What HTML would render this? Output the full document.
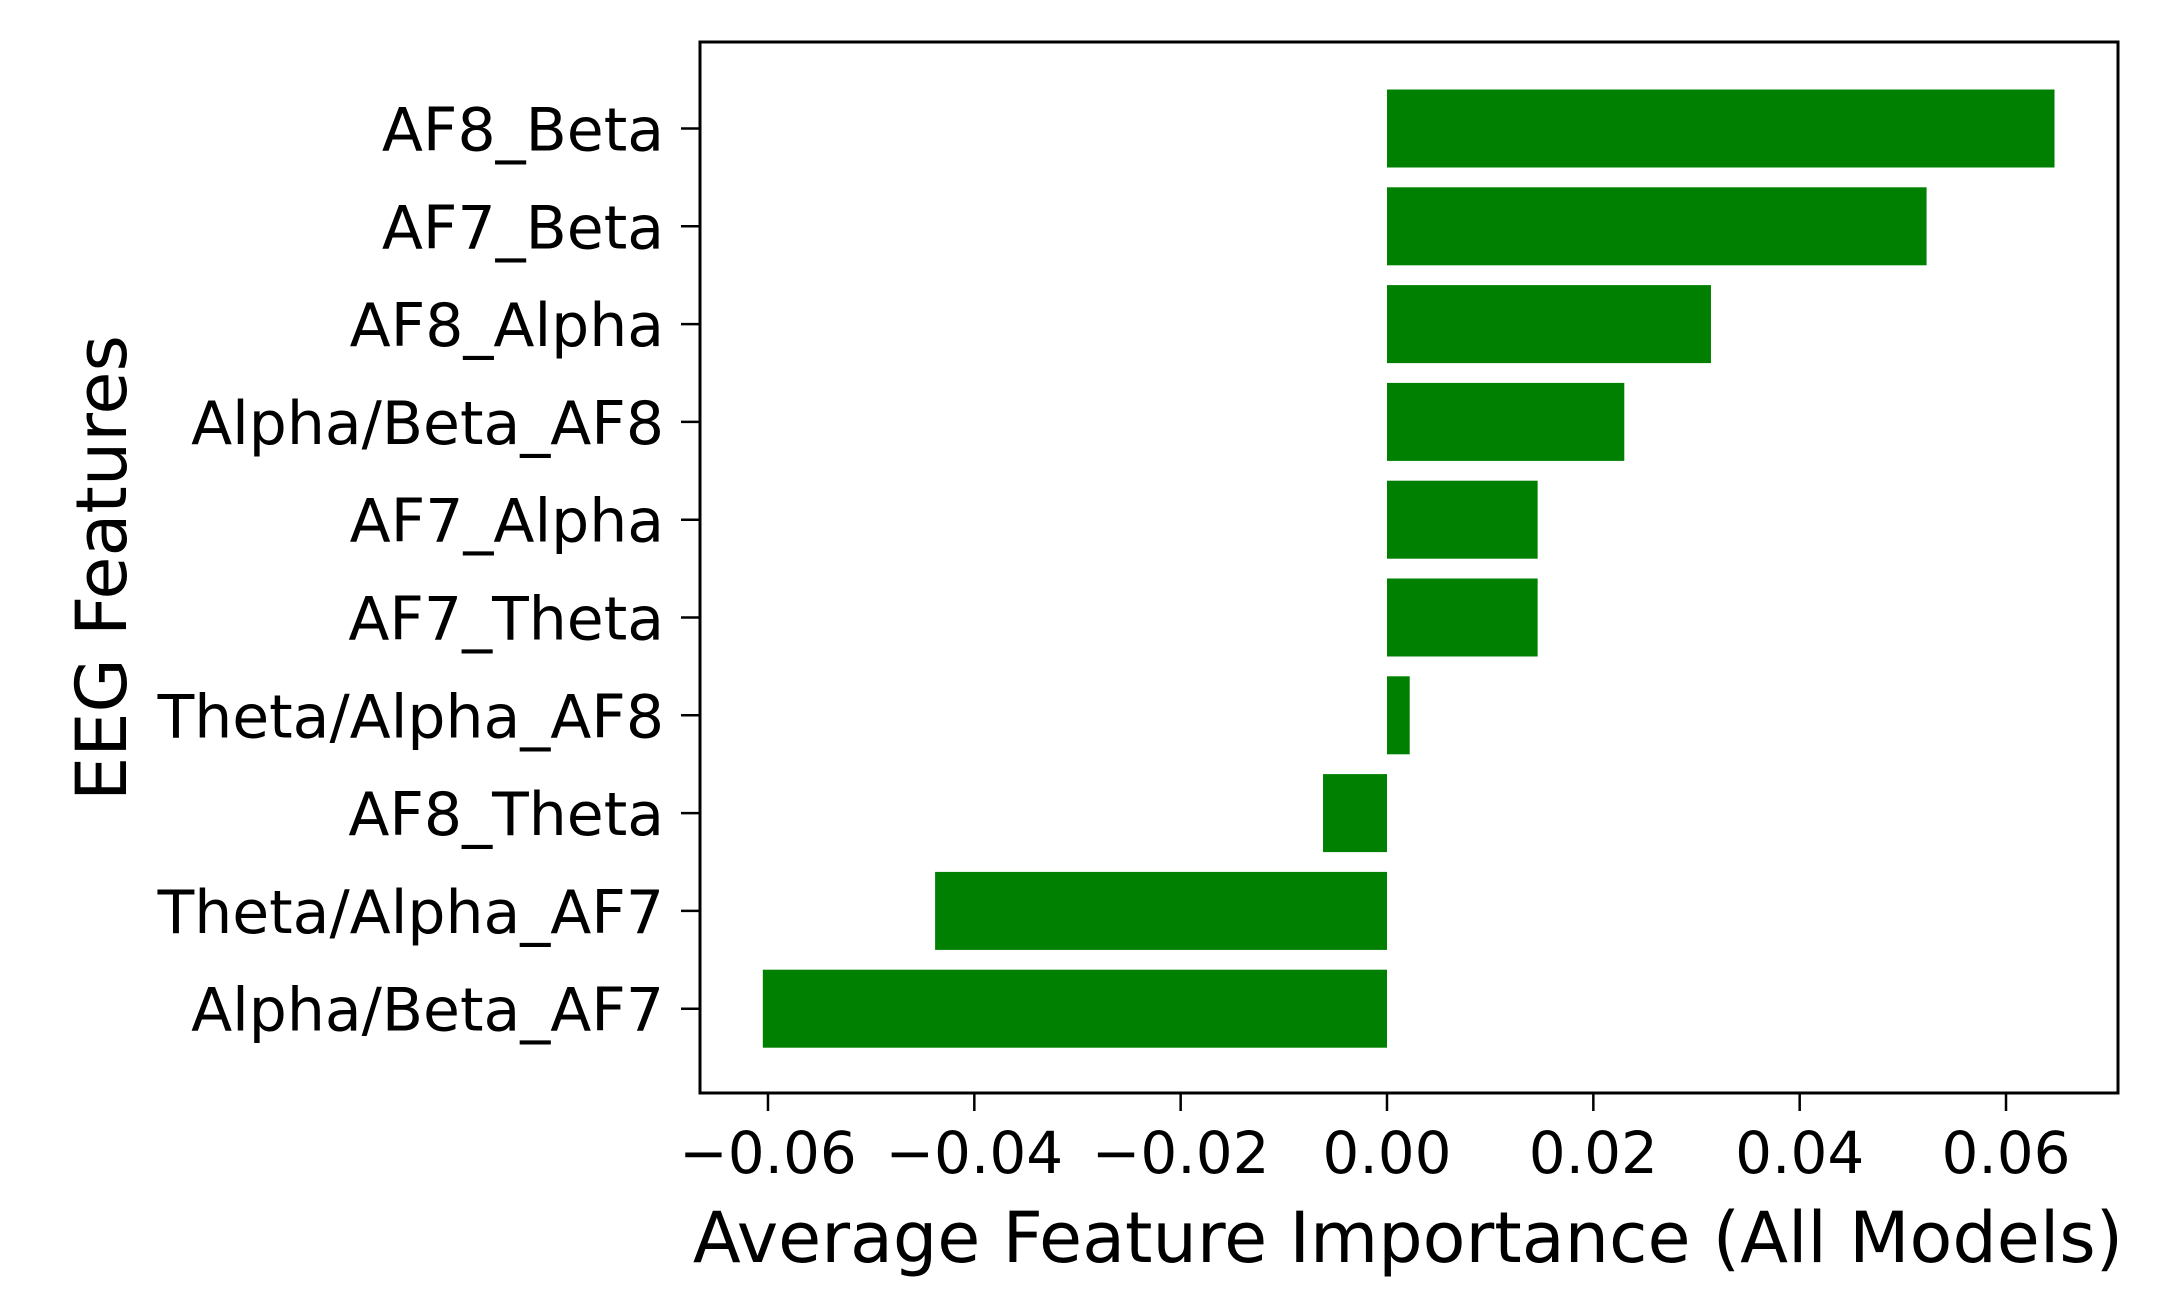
<!DOCTYPE html>
<html><head><meta charset="utf-8"><style>
html,body{margin:0;padding:0;background:#fff;}
svg{display:block;font-family:"DejaVu Sans","Liberation Sans",sans-serif;}
</style></head><body>
<svg id="chart" width="2180" height="1303" viewBox="0 0 2180 1303" xmlns="http://www.w3.org/2000/svg">
<g id="bars"></g>
<g id="yticks"></g>
<g id="xticks"></g>
<rect x="700" y="42" width="1418" height="1051" fill="none" stroke="#000" stroke-width="3"/>
<text x="1408" y="1262" font-size="70" text-anchor="middle" fill="#000">Average Feature Importance (All Models)</text>
<text x="0" y="0" font-size="70" text-anchor="middle" fill="#000" transform="translate(126,568) rotate(-90)">EEG Features</text>
</svg>
<script>
const categories = ["AF8_Beta","AF7_Beta","AF8_Alpha","Alpha/Beta_AF8","AF7_Alpha","AF7_Theta","Theta/Alpha_AF8","AF8_Theta","Theta/Alpha_AF7","Alpha/Beta_AF7"];
const values = [0.0647,0.0523,0.0314,0.0230,0.0146,0.0146,0.0022,-0.0062,-0.0438,-0.0605];
const xTicks = [-0.06,-0.04,-0.02,0.00,0.02,0.04,0.06];
const xTickLabels = ["\u22120.06","\u22120.04","\u22120.02","0.00","0.02","0.04","0.06"];

const NS = "http://www.w3.org/2000/svg";
function xScale(v){ return 1387 + v * 10317; }
function yScale(i){ return 128.5 + i * 97.8; }
const barH = 78;
const bars = document.getElementById('bars');
const yt = document.getElementById('yticks');
const xt = document.getElementById('xticks');
categories.forEach((c, i) => {
  const v = values[i];
  const x0 = xScale(Math.min(0, v)), x1 = xScale(Math.max(0, v));
  const r = document.createElementNS(NS, 'rect');
  r.setAttribute('x', x0); r.setAttribute('y', yScale(i) - barH / 2);
  r.setAttribute('width', x1 - x0); r.setAttribute('height', barH);
  r.setAttribute('fill', '#008000');
  
  
  bars.appendChild(r);
  const t = document.createElementNS(NS, 'line');
  t.setAttribute('x1', 681); t.setAttribute('x2', 700);
  t.setAttribute('y1', yScale(i)); t.setAttribute('y2', yScale(i));
  t.setAttribute('stroke', '#000'); t.setAttribute('stroke-width', 2.5);
  
  
  yt.appendChild(t);
  const l = document.createElementNS(NS, 'text');
  l.setAttribute('x', 664); l.setAttribute('y', yScale(i) + 22);
  l.setAttribute('font-size', 60); l.setAttribute('text-anchor', 'end');
  l.textContent = c;
  
  
  yt.appendChild(l);
});
xTicks.forEach((v, i) => {
  const x = xScale(v);
  const t = document.createElementNS(NS, 'line');
  t.setAttribute('x1', x); t.setAttribute('x2', x);
  t.setAttribute('y1', 1093); t.setAttribute('y2', 1111);
  t.setAttribute('stroke', '#000'); t.setAttribute('stroke-width', 2.5);
  
  
  xt.appendChild(t);
  const l = document.createElementNS(NS, 'text');
  l.setAttribute('x', x); l.setAttribute('y', 1173);
  l.setAttribute('font-size', 58); l.setAttribute('text-anchor', 'middle');
  l.textContent = xTickLabels[i];
  
  
  xt.appendChild(l);
});
</script>
</body></html>
